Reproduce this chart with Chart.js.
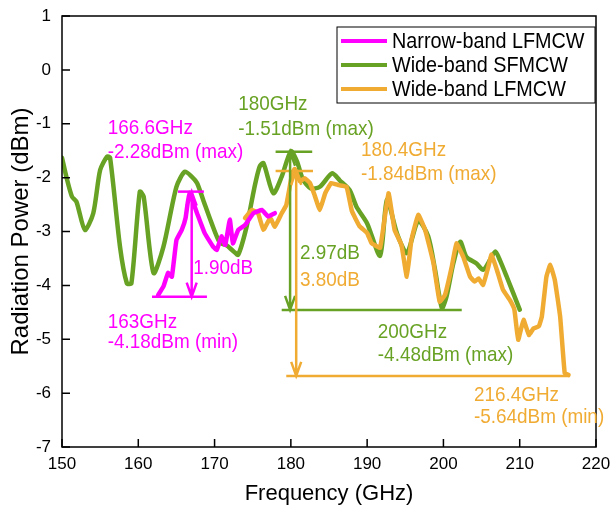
<!DOCTYPE html>
<html>
<head>
<meta charset="utf-8">
<script src="https://cdn.jsdelivr.net/npm/chart.js@4.4.1/dist/chart.umd.min.js"></script>
<style>
  html, body { margin: 0; padding: 0; background: #fff; }
</style>
</head>
<body>
<canvas id="myChart" width="611" height="508"></canvas>
<script>
// Narrow-band LFMCW
const freqNarrow = [162.6, 163.3, 163.9, 164.4, 165.0, 165.7, 166.2, 166.7, 167.7, 168.7, 169.8, 170.3, 170.9, 171.4, 172.0, 172.4, 173.1, 174.0, 175.1, 176.2, 177.0, 177.9];
const powerNarrow = [-4.18, -4.02, -3.77, -3.84, -3.16, -2.97, -2.75, -2.28, -2.66, -3.03, -3.28, -3.34, -3.09, -3.25, -2.78, -3.22, -2.97, -2.88, -2.66, -2.60, -2.72, -2.66];

// Wide-band SFMCW
const freqSF = [150.0, 150.6, 151.3, 151.9, 153.0, 154.1, 155.0, 155.9, 156.3, 157.6, 158.5, 159.1, 160.2, 160.7, 162.0, 163.3, 165.0, 166.1, 167.0, 167.7, 168.5, 169.6, 170.7, 171.5, 172.5, 173.1, 174.2, 175.2, 175.9, 176.4, 177.7, 178.8, 180.0, 180.8, 181.6, 182.6, 183.8, 185.4, 186.4, 187.7, 188.6, 190.0, 191.7, 192.6, 193.9, 195.2, 196.7, 198.0, 198.9, 199.8, 200.4, 201.3, 202.2, 203.0, 204.3, 205.2, 206.1, 206.8, 207.4, 208.3, 210.0];
const powerSF = [-1.63, -2.0, -2.35, -2.45, -2.97, -2.66, -1.86, -1.61, -1.63, -3.28, -3.96, -3.96, -2.26, -2.35, -3.77, -3.28, -2.17, -1.89, -1.98, -2.10, -2.41, -2.84, -3.21, -3.25, -3.37, -3.43, -2.91, -2.2, -1.80, -1.73, -2.29, -1.98, -1.51, -1.70, -2.04, -2.20, -2.17, -1.92, -2.05, -2.23, -2.54, -2.85, -3.45, -2.41, -3.03, -3.40, -2.80, -3.09, -3.71, -4.42, -4.21, -3.59, -3.19, -3.47, -3.59, -3.71, -3.53, -3.37, -3.53, -3.84, -4.45];

// Wide-band LFMCW
const freqLF = [174.0, 174.9, 175.7, 176.4, 177.3, 177.9, 178.8, 179.4, 180.1, 180.5, 181.2, 181.8, 182.5, 183.1, 183.8, 184.5, 185.3, 186.3, 187.3, 188.0, 189.0, 190.0, 190.6, 191.7, 192.8, 193.6, 194.5, 195.2, 195.8, 196.7, 197.6, 198.7, 199.5, 200.2, 201.1, 201.7, 202.6, 203.5, 204.1, 204.6, 205.2, 205.9, 206.3, 207.0, 207.8, 208.7, 209.3, 209.8, 210.5, 211.2, 211.8, 212.5, 212.9, 213.5, 214.0, 214.6, 215.3, 215.9, 216.4];
const powerLF = [-2.75, -2.60, -2.66, -2.97, -2.75, -2.91, -2.66, -2.51, -1.98, -1.84, -2.07, -2.01, -2.10, -2.32, -2.60, -2.29, -2.10, -2.14, -2.17, -2.62, -2.90, -3.03, -3.22, -3.30, -2.29, -2.97, -3.25, -3.84, -3.16, -2.69, -2.97, -3.59, -4.30, -4.18, -3.65, -3.22, -3.47, -3.84, -3.93, -3.87, -3.99, -3.65, -3.43, -3.71, -4.08, -4.27, -4.45, -5.01, -4.64, -4.92, -4.80, -4.76, -4.58, -3.84, -3.62, -3.90, -4.58, -5.63, -5.66];

const xTicks = [150, 160, 170, 180, 190, 200, 210, 220];
const yTicks = [1, 0, -1, -2, -3, -4, -5, -6, -7];

const MAGENTA = "#ff00ff";
const GREEN = "#68a224";
const ORANGE = "#f0ab33";
const FONT = "'Liberation Sans', Arial, sans-serif";
const SQUEEZE = 0.9; // text in the figure is slightly condensed

// markers: bars [x from, x to, y] and arrows [x, y top, y bottom]
const bars = [
  [MAGENTA, 165.2, 168.6, -2.26], [MAGENTA, 161.8, 169.0, -4.21],
  [GREEN, 178.0, 182.8, -1.52], [GREEN, 178.8, 202.4, -4.455],
  [ORANGE, 178.0, 182.9, -1.876], [ORANGE, 179.4, 216.6, -5.68]
];
const arrows = [
  [MAGENTA, 167.0, -2.26, -4.21],
  [GREEN, 179.9, -1.52, -4.455],
  [ORANGE, 180.7, -1.876, -5.68]
];
const notes = [
  [MAGENTA, "166.6GHz", 156.0, -1.08], [MAGENTA, "-2.28dBm (max)", 156.0, -1.52],
  [MAGENTA, "163GHz", 156.0, -4.68], [MAGENTA, "-4.18dBm (min)", 156.0, -5.05],
  [MAGENTA, "1.90dB", 167.2, -3.68],
  [GREEN, "180GHz", 173.1, -0.63], [GREEN, "-1.51dBm (max)", 173.1, -1.10],
  [GREEN, "2.97dB", 181.2, -3.40],
  [GREEN, "200GHz", 191.4, -4.86], [GREEN, "-4.48dBm (max)", 191.4, -5.29],
  [ORANGE, "180.4GHz", 189.2, -1.49], [ORANGE, "-1.84dBm (max)", 189.2, -1.93],
  [ORANGE, "3.80dB", 181.2, -3.90],
  [ORANGE, "216.4GHz", 204.0, -6.03], [ORANGE, "-5.64dBm (min)", 204.0, -6.44]
];

const toPts = (xs, ys) => xs.map((x, i) => ({ x: x, y: ys[i] }));

function squeezedText(ctx, text, x, y) {
  ctx.save();
  ctx.translate(x, y);
  ctx.scale(SQUEEZE, 1);
  ctx.fillText(text, 0, 0);
  ctx.restore();
}

const decor = {
  id: "decor",
  afterDatasetsDraw(chart) {
    const ctx = chart.ctx;
    const xs = chart.scales.x, ys = chart.scales.y;
    const a = chart.chartArea;
    ctx.save();
    // frame
    ctx.strokeStyle = "#000";
    ctx.lineWidth = 1.5;
    ctx.strokeRect(a.left, a.top, a.right - a.left, a.bottom - a.top);
    // inward ticks
    ctx.beginPath();
    xTicks.forEach(v => {
      const px = xs.getPixelForValue(v);
      ctx.moveTo(px, a.bottom);
      ctx.lineTo(px, a.bottom - 8);
    });
    yTicks.forEach(v => {
      const py = ys.getPixelForValue(v);
      ctx.moveTo(a.left, py);
      ctx.lineTo(a.left + 8, py);
    });
    ctx.stroke();

    // bars and arrows
    ctx.lineWidth = 2.5;
    bars.forEach(b => {
      ctx.strokeStyle = b[0];
      ctx.beginPath();
      ctx.moveTo(xs.getPixelForValue(b[1]), ys.getPixelForValue(b[3]));
      ctx.lineTo(xs.getPixelForValue(b[2]), ys.getPixelForValue(b[3]));
      ctx.stroke();
    });
    arrows.forEach(r => {
      const px = xs.getPixelForValue(r[1]);
      const y1 = ys.getPixelForValue(r[2]), y2 = ys.getPixelForValue(r[3]);
      ctx.strokeStyle = r[0];
      ctx.beginPath();
      ctx.moveTo(px, y1); ctx.lineTo(px, y2);
      ctx.moveTo(px - 5, y1 + 14); ctx.lineTo(px, y1); ctx.lineTo(px + 5, y1 + 14);
      ctx.moveTo(px - 5, y2 - 14); ctx.lineTo(px, y2); ctx.lineTo(px + 5, y2 - 14);
      ctx.stroke();
    });

    // text notes
    ctx.font = "21px " + FONT;
    ctx.textBaseline = "middle";
    ctx.textAlign = "left";
    notes.forEach(n => {
      ctx.fillStyle = n[0];
      squeezedText(ctx, n[1], xs.getPixelForValue(n[2]), ys.getPixelForValue(n[3]));
    });

    // legend
    const lx = a.right - 259, ly = a.top + 11;
    ctx.fillStyle = "#fff";
    ctx.fillRect(lx, ly, 258, 76);
    ctx.strokeStyle = "#000";
    ctx.lineWidth = 1;
    ctx.strokeRect(lx, ly, 258, 76);
    ctx.font = "22px " + FONT;
    chart.data.datasets.forEach((ds, i) => {
      const ry = ly + 14 + i * 24;
      ctx.strokeStyle = ds.borderColor;
      ctx.lineWidth = 4;
      ctx.beginPath();
      ctx.moveTo(lx + 4, ry);
      ctx.lineTo(lx + 50, ry);
      ctx.stroke();
      ctx.fillStyle = "#000";
      squeezedText(ctx, ds.label, lx + 55, ry + 1);
    });
    ctx.restore();
  }
};

const ctx = document.getElementById("myChart").getContext("2d");
const myChart = new Chart(ctx, {
  type: "line",
  data: {
    datasets: [
      { label: "Narrow-band LFMCW", data: toPts(freqNarrow, powerNarrow), borderColor: MAGENTA, order: 1, tension: 0.1 },
      { label: "Wide-band SFMCW", data: toPts(freqSF, powerSF), borderColor: GREEN, order: 3, tension: 0.25 },
      { label: "Wide-band LFMCW", data: toPts(freqLF, powerLF), borderColor: ORANGE, order: 2, tension: 0.1 }
    ]
  },
  options: {
    responsive: false,
    animation: false,
    layout: { padding: { top: 16, right: 15, left: 0, bottom: 0 } },
    elements: { point: { radius: 0 }, line: { borderWidth: 4.5, borderJoinStyle: "round", borderCapStyle: "round" } },
    plugins: { legend: { display: false }, tooltip: { enabled: false } },
    scales: {
      x: {
        type: "linear", min: 150, max: 220,
        afterBuildTicks: s => { s.ticks = xTicks.map(v => ({ value: v })); },
        ticks: { font: { family: FONT, size: 17 }, color: "#000", padding: 7 },
        grid: { display: false, drawTicks: false },
        border: { display: false },
        title: { display: true, text: "Frequency (GHz)", color: "#000", font: { family: FONT, size: 22 }, padding: { top: 0, bottom: 1 } },
        afterFit: s => { s.height = 61; s.paddingLeft = 0; s.paddingRight = 0; }
      },
      y: {
        type: "linear", min: -7, max: 1,
        afterBuildTicks: s => { s.ticks = yTicks.map(v => ({ value: v })); },
        ticks: { font: { family: FONT, size: 17 }, color: "#000", padding: 11 },
        grid: { display: false, drawTicks: false },
        border: { display: false },
        title: { display: true, text: "Radiation Power (dBm)", color: "#000", font: { family: FONT, size: 24 }, padding: { top: 7, bottom: 0 } },
        afterFit: s => { s.width = 62; s.paddingTop = 0; s.paddingBottom = 0; }
      }
    }
  },
  plugins: [decor]
});
</script>
</body>
</html>
